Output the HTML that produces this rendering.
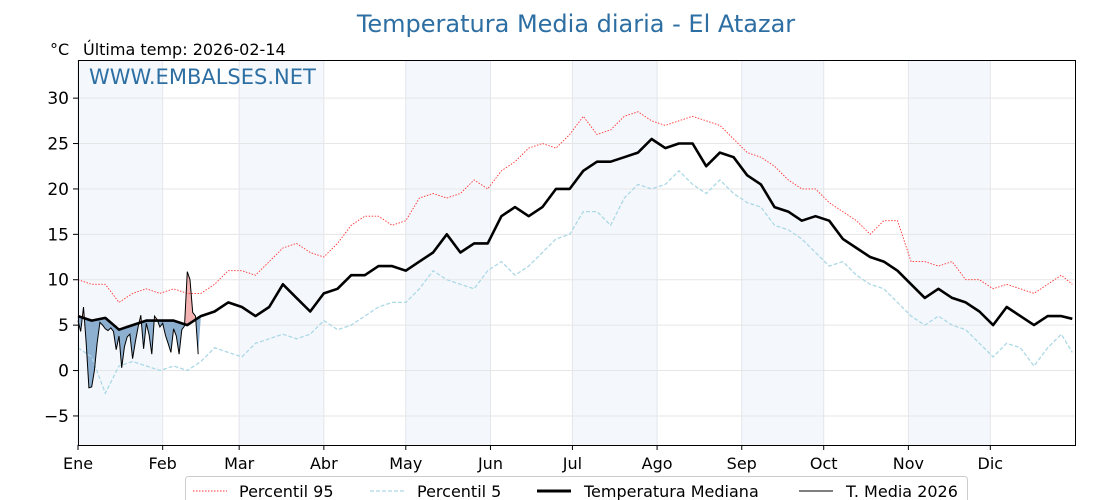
<!DOCTYPE html>
<html><head><meta charset="utf-8"><style>
body{margin:0;background:#fff}
svg{display:block;font-family:"DejaVu Sans","Liberation Sans",sans-serif}
</style></head><body>
<svg id="c" width="1120" height="500" viewBox="0 0 1120 500">
<text x="576" y="32" text-anchor="middle" font-size="24" fill="#2e6fa3">Temperatura Media diaria - El Atazar</text>
<text x="50" y="55" font-size="16" fill="#000">°C</text>
<text x="83" y="55" font-size="16" fill="#000">Última temp: 2026-02-14</text>
<g id="bands"></g><g id="grid"></g><g id="series"></g>
<rect x="78.5" y="60.5" width="997" height="385" fill="none" stroke="#000" stroke-width="1"/>
<text x="89" y="84" font-size="21" fill="#2e6fa3">WWW.EMBALSES.NET</text>
<g id="axes"></g>
<g>
<rect x="185.5" y="476.5" width="782" height="34" rx="3" fill="#fff" stroke="#ccc"/>
<line x1="193" y1="491" x2="227" y2="491" stroke="#f33" stroke-width="1" stroke-dasharray="1.5,1.5"/>
<text x="239" y="497" font-size="16">Percentil 95</text>
<line x1="370" y1="491" x2="404" y2="491" stroke="#add8e6" stroke-width="1.2" stroke-dasharray="4,2"/>
<text x="417" y="497" font-size="16">Percentil 5</text>
<line x1="537" y1="491" x2="571" y2="491" stroke="#000" stroke-width="3"/>
<text x="584" y="497" font-size="16">Temperatura Mediana</text>
<line x1="799" y1="491" x2="833" y2="491" stroke="#000" stroke-width="1"/>
<text x="846" y="497" font-size="16">T. Media 2026</text>
</g>
</svg>
<script>
const stepDays = 5;
const p95 = [10,9.5,9.5,7.5,8.5,9,8.5,9,8.5,8.5,9.5,11,11,10.5,12,13.5,14,13,12.5,14,16,17,17,16,16.5,19,19.5,19,19.5,21,20,22,23,24.5,25,24.5,26,28,26,26.5,28,28.5,27.5,27,27.5,28,27.5,27,25.5,24,23.5,22.5,21,20,20,18.5,17.5,16.5,15,16.5,16.5,12,12,11.5,12,10,10,9,9.5,9,8.5,9.5,10.5,9.5];
const p5 = [2.5,1.5,-2.5,0.5,1,0.5,0,0.5,0,1,2.5,2,1.5,3,3.5,4,3.5,4,5.5,4.5,5,6,7,7.5,7.5,9,11,10,9.5,9,11,12,10.5,11.5,13,14.5,15,17.5,17.5,16,19,20.5,20,20.5,22,20.5,19.5,21,19.5,18.5,18,16,15.5,14.5,13,11.5,12,10.5,9.5,9,7.5,6,5,6,5,4.5,3,1.5,3,2.5,0.5,2.5,4,2];
const median = [6,5.5,5.8,4.5,5,5.5,5.5,5.5,5,6,6.5,7.5,7,6,7,9.5,8,6.5,8.5,9,10.5,10.5,11.5,11.5,11,12,13,15,13,14,14,17,18,17,18,20,20,22,23,23,23.5,24,25.5,24.5,25,25,22.5,24,23.5,21.5,20.5,18,17.5,16.5,17,16.5,14.5,13.5,12.5,12,11,9.5,8,9,8,7.5,6.5,5,7,6,5,6,6,5.7];
const t2026 = [5.5,4.3,7.0,3.0,-1.9,-1.8,0,3,5.3,5.0,4.6,4.4,4.7,4.3,2.3,3.8,0.3,2.6,3.7,4.0,1.3,3.2,4.8,6.1,2.4,5.2,4,1.8,6,5.6,4.8,5.2,3.9,3,2,4.6,3.8,1.8,4.5,4.9,10.9,10,6.4,6,1.8];
const months = ["Ene","Feb","Mar","Abr","May","Jun","Jul","Ago","Sep","Oct","Nov","Dic"];
const monthStart = [0,31,59,90,120,151,181,212,243,273,304,334];
const yTicks = [-5,0,5,10,15,20,25,30];

const NS="http://www.w3.org/2000/svg";
const X0=78,X1=1075,Y0=60,Y1=445,YMIN=-8.2,YMAX=34.2;
const xs=d=>X0+(X1-X0)*d/365;
const ys=v=>Y1-(v-YMIN)/(YMAX-YMIN)*(Y1-Y0);
function mk(tag,attrs,parent){const e=document.createElementNS(NS,tag);for(const k in attrs)e.setAttribute(k,attrs[k]);parent.appendChild(e);return e;}
const bands=document.getElementById('bands'),grid=document.getElementById('grid'),ser=document.getElementById('series'),axes=document.getElementById('axes');

monthStart.forEach((m,i)=>{
  const end=i<11?monthStart[i+1]:365;
  if(i%2===0){const r=mk('rect',{x:xs(m),y:Y0,width:xs(end)-xs(m),height:Y1-Y0,fill:'#f4f8fc'},bands);
    
    }
  const g=mk('line',{x1:xs(m),x2:xs(m),y1:Y0,y2:Y1,stroke:'#e3e6ea','stroke-width':1},grid);
  
  
  const t=mk('line',{x1:xs(m),x2:xs(m),y1:Y1,y2:Y1+5,stroke:'#000'},axes);
  
  
  const l=mk('text',{x:xs(m),y:Y1+24,'font-size':16,'text-anchor':'middle'},axes);l.textContent=months[i];
  
  
});
yTicks.forEach(v=>{
  const g=mk('line',{x1:X0,x2:X1,y1:ys(v),y2:ys(v),stroke:'#e6e6e6','stroke-width':1},grid);
  
  
  const t=mk('line',{x1:X0-5,x2:X0,y1:ys(v),y2:ys(v),stroke:'#000'},axes);
  
  
  const l=mk('text',{x:X0-9,y:ys(v)+6,'font-size':17,'text-anchor':'end'},axes);l.textContent=v===0?'0':(v<0?'−'+(-v):v);
  
  
});
function pts(arr,step){return arr.map((v,i)=>[xs(Math.min(i*step,364)),ys(v)]);}
const str=p=>p.map(q=>q[0].toFixed(1)+','+q[1].toFixed(1)).join(' ');
const mP=pts(median,stepDays),tP=pts(t2026,1);
const defs=mk('defs',{},ser);
const below=mk('clipPath',{id:'below'},defs);
mk('polygon',{points:str(mP)+' '+xs(364)+','+Y1+' '+X0+','+Y1},below);
const above=mk('clipPath',{id:'above'},defs);
mk('polygon',{points:str(mP)+' '+xs(364)+','+Y0+' '+X0+','+Y0},above);
const tEnd=44;
const mSub=mP.filter((p,i)=>i*stepDays<=tEnd+5);
const region=str(tP)+' '+str(mSub.slice().reverse());
const fb=mk('polygon',{points:region,fill:'#7aa2c8','fill-opacity':0.85,'clip-path':'url(#below)'},ser);


const fr=mk('polygon',{points:region,fill:'#f2a6a6','fill-opacity':0.85,'clip-path':'url(#above)'},ser);


const a=mk('polyline',{points:str(pts(p95,stepDays)),fill:'none',stroke:'#f33','stroke-width':0.9,'stroke-dasharray':'1.5,1.5'},ser);


const b=mk('polyline',{points:str(pts(p5,stepDays)),fill:'none',stroke:'#add8e6','stroke-width':1.3,'stroke-dasharray':'4,2'},ser);


const c=mk('polyline',{points:str(mP),fill:'none',stroke:'#000','stroke-width':2.6,'stroke-linejoin':'round'},ser);


const d=mk('polyline',{points:str(tP),fill:'none',stroke:'#000','stroke-width':1},ser);


</script>
</body></html>
